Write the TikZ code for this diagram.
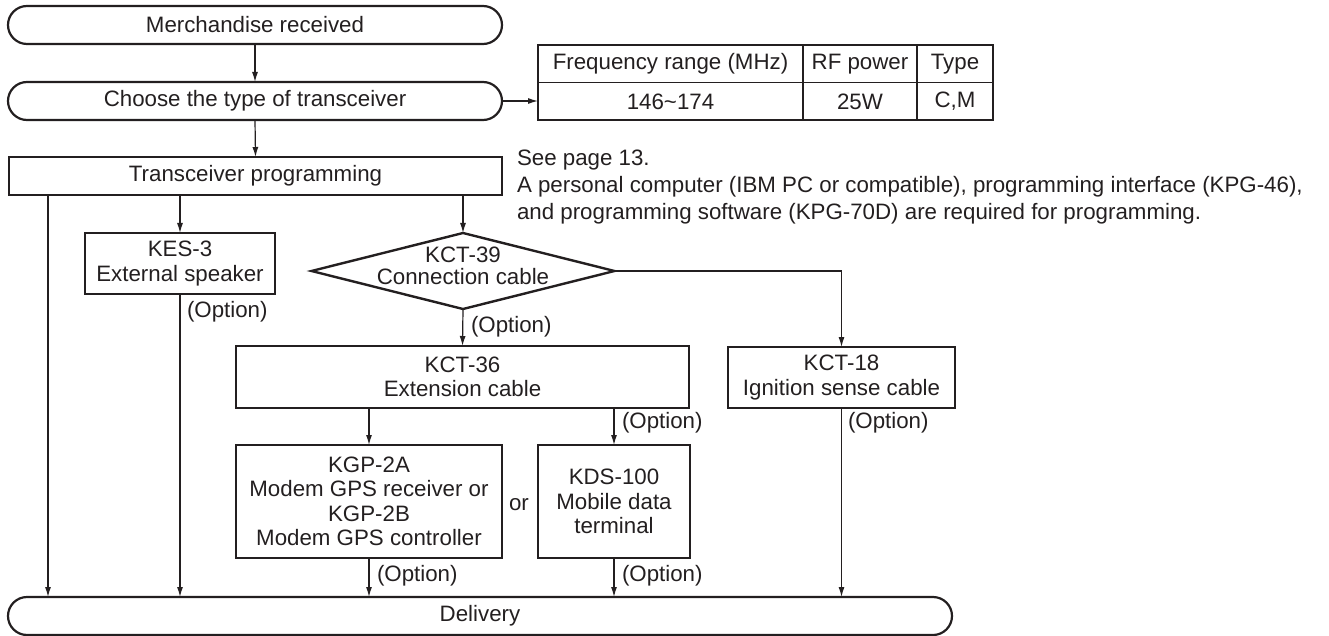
\documentclass[tikz,border=0pt]{standalone}
\usepackage{fontspec}
\setmainfont{Liberation Sans}
\usetikzlibrary{arrows.meta,shapes.geometric}
\definecolor{ink}{HTML}{231F20}
\begin{document}
\begin{tikzpicture}[x=1pt,y=-1pt,
  every node/.style={font=\fontsize{22.3}{24.5}\selectfont, text=ink, inner sep=0pt, outer sep=0pt},
  stadium/.style={draw=ink, line width=2.2pt, rounded corners=19pt, minimum width=494pt, minimum height=38pt},
  box/.style={draw=ink, line width=2.6pt, align=center},
  conn/.style={draw=ink, line width=1.2pt},
  arr/.style={conn, -{Latex[length=10pt,width=6pt]}},
  opt/.style={anchor=west}]
\useasboundingbox (0,0) rectangle (1329,636);

% top
\node[stadium] (merch) at (255,25) {Merchandise received};
\node[stadium] (choose) at (255,101) {Choose the type of transceiver};
\node[box, minimum width=493pt, minimum height=38pt] (prog) at (255.5,176) {Transceiver programming};

% table
\node[draw=ink, line width=2.2pt, minimum width=455pt, minimum height=75pt] (tab) at (765.5,82.5) {};
\coordinate (d1) at (803,0);
\coordinate (d2) at (917,0);
\draw[conn] (tab.west) -- (tab.east);
\draw[conn] (d1 |- tab.north) -- (d1 |- tab.south);
\draw[conn] (d2 |- tab.north) -- (d2 |- tab.south);
\node (c11) at (670.5,64) {Frequency range (MHz)};
\node (c12) at (860,64) {RF power};
\node (c13) at (955,64) {Type};
\node (c21) at (670.5,101.5) {146\char`~174};
\node (c22) at (860,101.5) {25W};
\node (c23) at (955,101.5) {C,M};

% note
\node[anchor=north west, align=left, font=\fontsize{22.3}{27}\selectfont] (note) at (517,150)
 {See page 13.\\A personal computer (IBM PC or compatible), programming interface (KPG-46),\\and programming software (KPG-70D) are required for programming.};

% middle
\node[box, minimum width=190pt, minimum height=61pt] (kes) at (180,263.5) {KES-3\\External speaker};
\node[diamond, draw=ink, line width=2.4pt, minimum width=303pt, minimum height=76pt, inner sep=0pt,
  label={[align=center, font=\fontsize{22.3}{22}\selectfont, yshift=5pt]center:KCT-39\\Connection cable}] (kct39) at (463,271) {};
\node[box, minimum width=453pt, minimum height=62pt] (k36) at (462.5,377) {KCT-36\\Extension cable};
\node[box, minimum width=227pt, minimum height=61pt] (k18) at (841.5,377.5) {KCT-18\\Ignition sense cable};
\node[box, minimum width=266pt, minimum height=113pt] (kgp) at (369,501.5) {KGP-2A\\Modem GPS receiver or\\KGP-2B\\Modem GPS controller};
\node[box, minimum width=152pt, minimum height=113pt] (kds) at (614,501.5) {KDS-100\\Mobile data\\terminal};
\node (or) at (519,505) {or};
\node[stadium, minimum width=944pt] (deliv) at (480,616) {Delivery};

% option labels
\node[opt] (o1) at (187,312) {(Option)};
\node[opt] (o2) at (471,327) {(Option)};
\node[opt] (o3) at (622,423) {(Option)};
\node[opt] (o4) at (848,423) {(Option)};
\node[opt] (o5) at (377,576) {(Option)};
\node[opt] (o6) at (622,576) {(Option)};

% connectors
\coordinate (xl) at (48,0);
\draw[arr] (merch.south) -- (choose.north);
\draw[arr] (choose.east) -- (choose.east -| tab.west);
\draw[arr] (choose.south) -- (prog.north);
\draw[arr] (prog.south -| xl) -- (deliv.north -| xl);
\draw[arr] (prog.south -| kes.north) -- (kes.north);
\draw[arr] (kes.south) -- (kes.south |- deliv.north);
\draw[arr] (prog.south -| kct39.north) -- (kct39.north);
\draw[arr] (kct39.east) -| (k18.north);
\draw[arr] (kct39.south) -- (k36.north);
\draw[arr] (k18.south) -- (k18.south |- deliv.north);
\draw[arr] (k36.south -| kgp.north) -- (kgp.north);
\draw[arr] (k36.south -| kds.north) -- (kds.north);
\draw[arr] (kgp.south) -- (kgp.south |- deliv.north);
\draw[arr] (kds.south) -- (kds.south |- deliv.north);
\end{tikzpicture}
\end{document}
